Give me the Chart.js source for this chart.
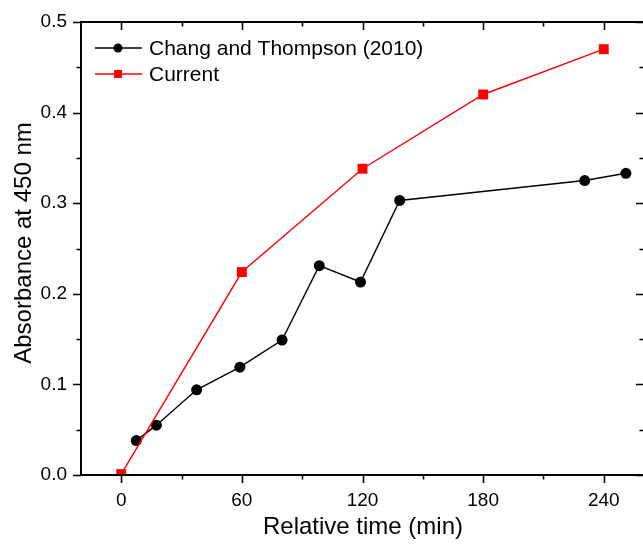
<!DOCTYPE html>
<html>
<head>
<meta charset="utf-8">
<script src="https://cdn.jsdelivr.net/npm/chart.js@4"></script>
<style>
  html, body { margin: 0; padding: 0; background: #fff; overflow: hidden; }
  #wrap { width: 646px; height: 548px; }
  #absChart { display: block; width: 646px; height: 548px; }
</style>
</head>
<body>
<div id="wrap"><canvas id="absChart" width="646" height="548"></canvas></div>
<script>
// time in minutes / absorbance at 450 nm
const changTime = [7.5, 17.5, 37.5, 59, 80, 98.5, 119, 138.5, 230.5, 251];
const changAbs = [0.038, 0.055, 0.094, 0.119, 0.149, 0.231, 0.213, 0.303, 0.325, 0.333];
const currentTime = [0, 60, 120, 180, 240];
const currentAbs = [0.001, 0.224, 0.338, 0.420, 0.470];

const xMajorTicks = [0, 60, 120, 180, 240];
const xMinorTicks = [30, 90, 150, 210];
const yMajorTicks = [0, 0.1, 0.2, 0.3, 0.4, 0.5];
const yMinorTicks = [0.05, 0.15, 0.25, 0.35, 0.45];

const seriesNames = ['Chang and Thompson (2010)', 'Current'];

const FONT = 'Liberation Sans, Arial, sans-serif';

// frame, ticks, axis titles and the inline legend
const framePlugin = {
    id: 'frame',
    afterLayout(chart) {
        // plot box runs right up to the canvas edge
        const a = chart.chartArea;
        a.right = chart.width - 2;
        a.width = a.right - a.left;
        const xs = chart.scales.x;
        xs.right = a.right;
        xs.width = xs.right - xs.left;
        xs.configure();
    },
    afterDraw(chart) {
        const ctx = chart.ctx;
        const a = chart.chartArea;
        const xs = chart.scales.x, ys = chart.scales.y;
        ctx.save();
        ctx.strokeStyle = '#000';
        ctx.lineWidth = 2;
        ctx.strokeRect(a.left, a.top, a.right - a.left, a.bottom - a.top);

        const major = 8, minor = 4.5;
        ctx.lineWidth = 1.6;
        ctx.beginPath();
        const xt = (v, len) => {
            const px = Math.round(xs.getPixelForValue(v)) + 0.5;
            ctx.moveTo(px, a.bottom); ctx.lineTo(px, a.bottom + len);
            ctx.moveTo(px, a.top); ctx.lineTo(px, a.top + len);
        };
        const yt = (v, len) => {
            const py = Math.round(ys.getPixelForValue(v)) + 0.5;
            ctx.moveTo(a.left, py); ctx.lineTo(a.left - len, py);
            ctx.moveTo(a.right, py); ctx.lineTo(a.right - len, py);
        };
        xMajorTicks.forEach(v => xt(v, major));
        xMinorTicks.forEach(v => xt(v, minor));
        yMajorTicks.forEach(v => yt(v, major));
        yMinorTicks.forEach(v => yt(v, minor));
        ctx.stroke();

        // axis titles
        ctx.fillStyle = '#000';
        ctx.font = '24px ' + FONT;
        ctx.textAlign = 'center';
        ctx.textBaseline = 'middle';
        ctx.fillText('Relative time (min)', 363, 527);
        ctx.save();
        ctx.translate(24, 243);
        ctx.rotate(-Math.PI / 2);
        ctx.fillText('Absorbance at 450 nm', 0, 0);
        ctx.restore();

        // legend
        const rows = [
            { y: 48, color: '#000', style: 'circle' },
            { y: 74, color: '#f00', style: 'rect' }
        ];
        ctx.font = '21px ' + FONT;
        ctx.textAlign = 'left';
        rows.forEach((r, i) => {
            ctx.strokeStyle = r.color;
            ctx.lineWidth = 1.4;
            ctx.beginPath();
            ctx.moveTo(95, r.y); ctx.lineTo(142, r.y);
            ctx.stroke();
            ctx.fillStyle = r.color;
            if (r.style === 'circle') {
                ctx.beginPath();
                ctx.arc(118, r.y, 4.5, 0, Math.PI * 2);
                ctx.fill();
            } else {
                ctx.fillRect(114, r.y - 4, 8, 8);
            }
            ctx.fillStyle = '#000';
            ctx.fillText(seriesNames[i], 149, r.y + 1);
        });
        ctx.restore();
    }
};

// keep the plot box fixed: no extra room for edge labels
const noEdgePadding = s => {
    s.paddingLeft = 0; s.paddingRight = 0;
    s.paddingTop = 0; s.paddingBottom = 0;
};

const ctx = document.getElementById('absChart').getContext('2d');
new Chart(ctx, {
    type: 'scatter',
    data: {
        datasets: [{
            label: seriesNames[0],
            data: changTime.map((t, i) => ({ x: t, y: changAbs[i] })),
            showLine: true,
            borderColor: '#000',
            backgroundColor: '#000',
            borderWidth: 1.4,
            pointStyle: 'circle',
            pointRadius: 5.5,
            pointBorderWidth: 0,
            order: 2
        }, {
            label: seriesNames[1],
            data: currentTime.map((t, i) => ({ x: t, y: currentAbs[i] })),
            showLine: true,
            borderColor: '#f00',
            backgroundColor: '#f00',
            borderWidth: 1.4,
            pointStyle: 'rect',
            pointRadius: 7,
            pointBorderWidth: 0,
            order: 1
        }]
    },
    options: {
        responsive: false,
        animation: false,
        layout: { padding: { top: 22, right: 2, left: 0, bottom: 0 } },
        plugins: {
            legend: { display: false },
            tooltip: { enabled: false }
        },
        scales: {
            x: {
                type: 'linear',
                min: -20,
                max: 260,
                grid: { display: false, drawTicks: false },
                border: { display: false },
                afterBuildTicks: s => { s.ticks = xMajorTicks.map(v => ({ value: v })); },
                afterFit: s => { s.height = 73; noEdgePadding(s); },
                ticks: {
                    color: '#000',
                    font: { family: FONT, size: 19 },
                    padding: 14,
                    maxRotation: 0
                }
            },
            y: {
                min: 0,
                max: 0.5,
                grid: { display: false, drawTicks: false },
                border: { display: false },
                afterBuildTicks: s => { s.ticks = yMajorTicks.map(v => ({ value: v })); },
                afterFit: s => { s.width = 81; noEdgePadding(s); },
                ticks: {
                    color: '#000',
                    font: { family: FONT, size: 19 },
                    padding: 14,
                    callback: v => v.toFixed(1)
                }
            }
        }
    },
    plugins: [framePlugin]
});
</script>
</body>
</html>
